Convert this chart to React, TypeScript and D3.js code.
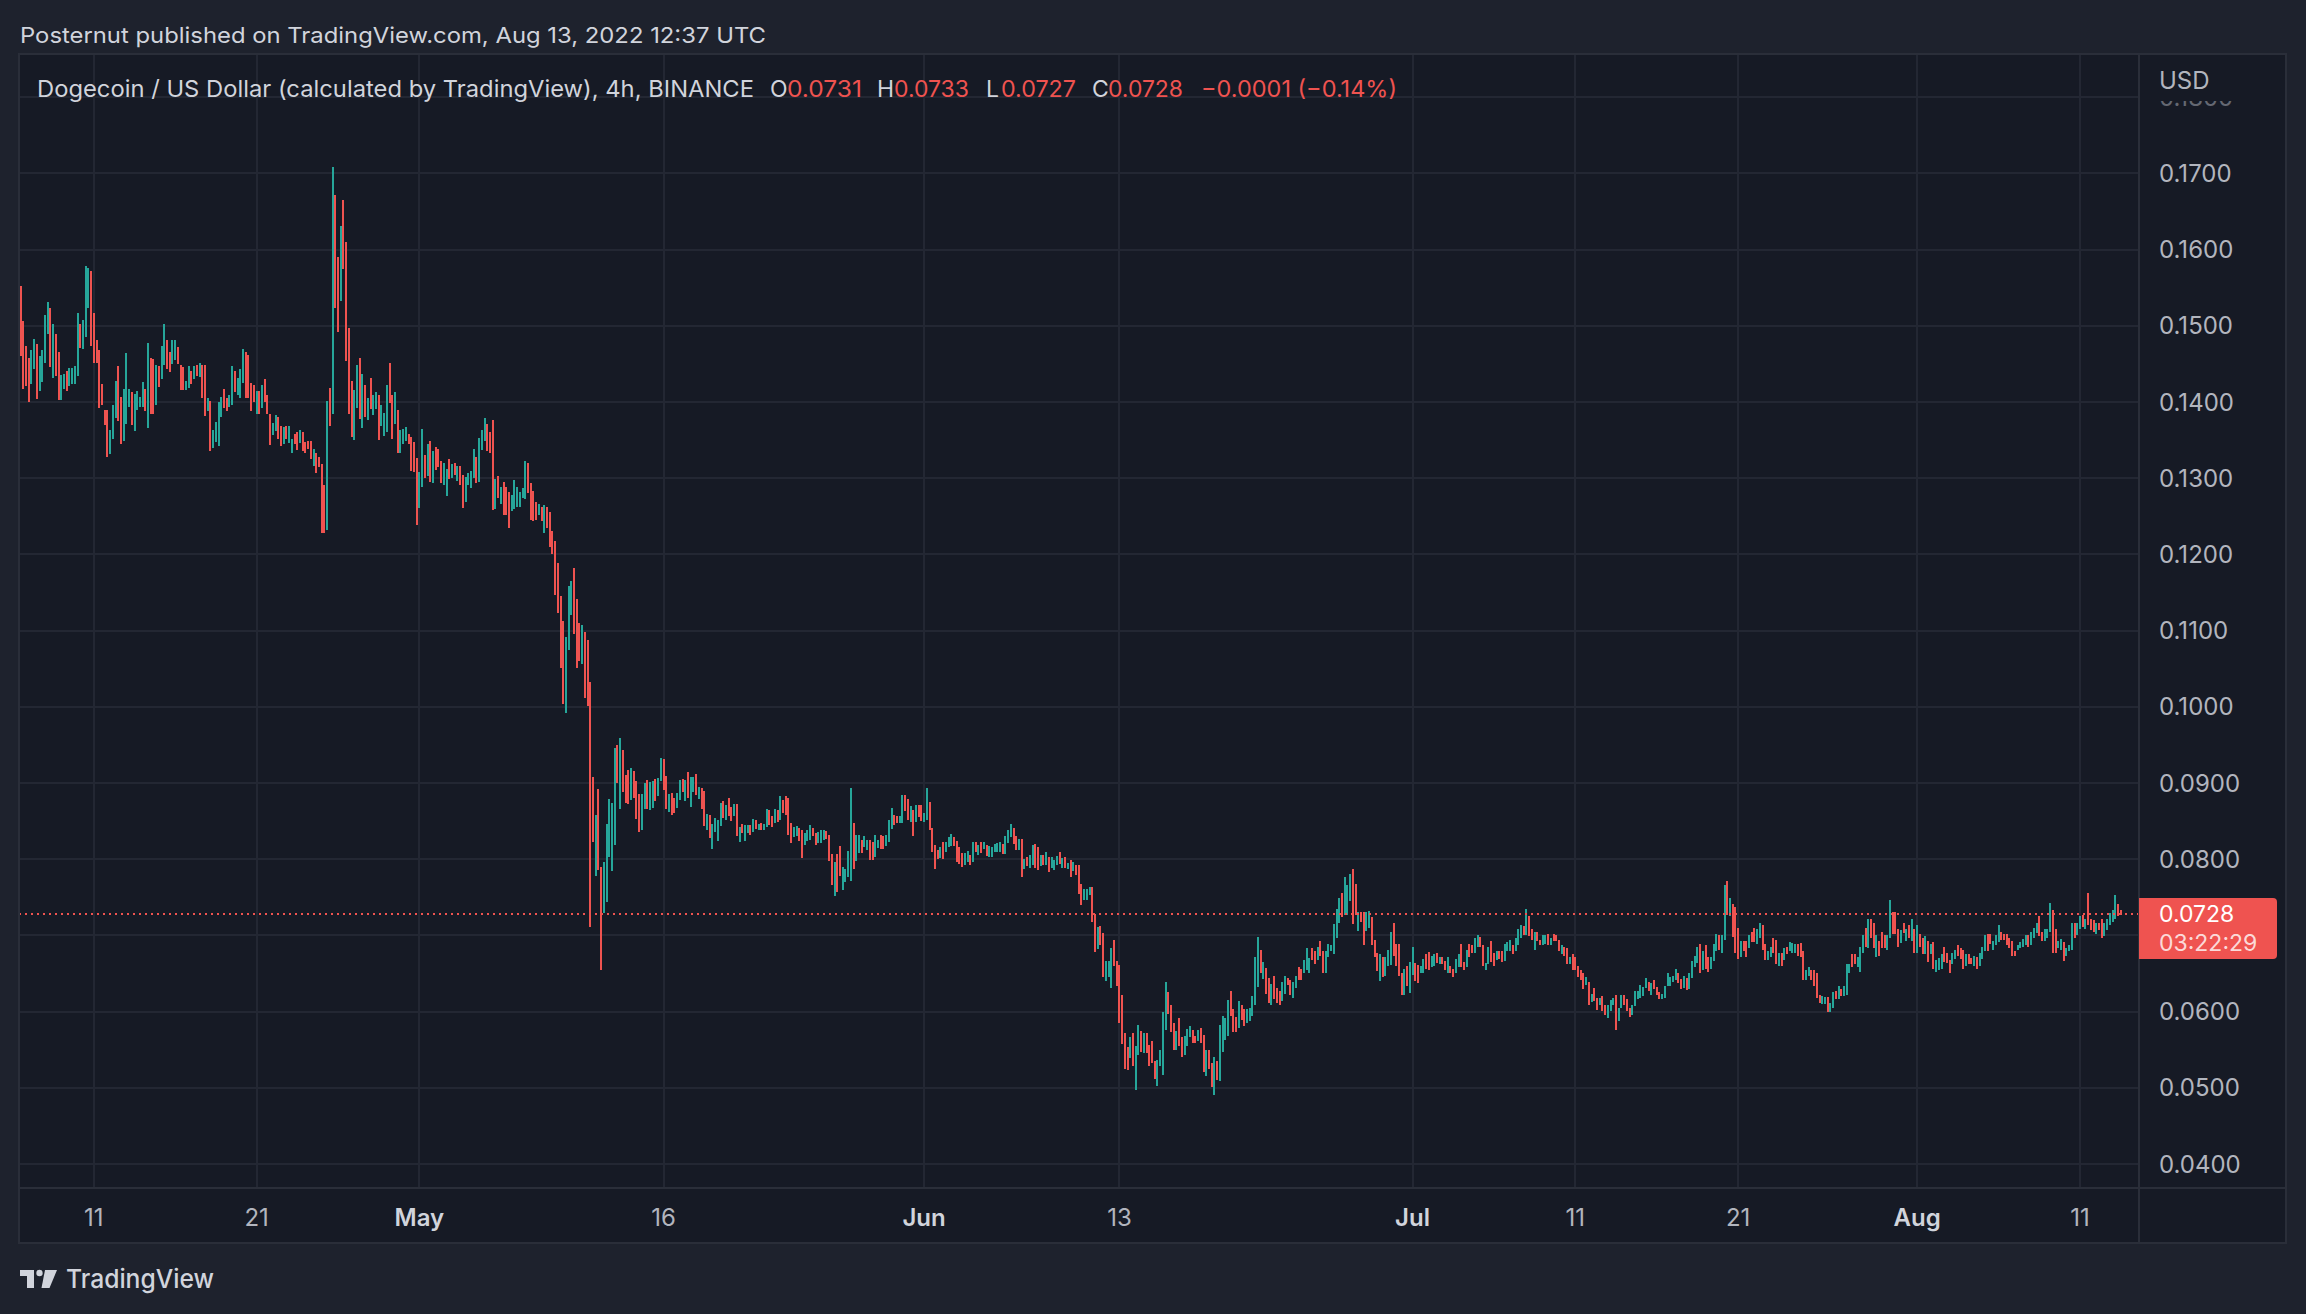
import * as d3 from 'd3';

// DOGE/USD 4h candles, values in 0.0001 USD: [high, low, up]  (up = 1 -> closed above open)
// Apr 6 12:00 UTC -> Apr 30 20:00 UTC
const aprilBars = [
  [1552, 1460, 0], [1506, 1417, 0], [1474, 1421, 0], [1458, 1400, 0], [1468, 1424, 1], [1483, 1443, 1], [1476, 1404, 0], [1460, 1414, 1], [1468, 1426, 1], [1514, 1451, 1],
  [1531, 1489, 1], [1523, 1446, 0], [1502, 1431, 1], [1489, 1434, 0], [1465, 1403, 0], [1435, 1403, 1], [1436, 1417, 1], [1440, 1414, 0], [1445, 1421, 1], [1445, 1424, 1],
  [1447, 1424, 1], [1517, 1434, 1], [1502, 1471, 0], [1508, 1469, 1], [1579, 1485, 1], [1576, 1523, 1], [1572, 1473, 0],
  [1517, 1451, 0], [1481, 1451, 0], [1468, 1392, 0], [1423, 1396, 0], [1389, 1370, 0], [1389, 1328, 0], [1363, 1332, 1], [1396, 1352, 1], [1428, 1379, 1], [1447, 1375, 0],
  [1407, 1345, 0], [1417, 1349, 1], [1464, 1371, 1], [1417, 1393, 1], [1413, 1370, 0], [1410, 1362, 1], [1414, 1390, 1], [1407, 1393, 1], [1426, 1393, 1], [1417, 1388, 0],
  [1477, 1366, 1], [1457, 1384, 0], [1456, 1384, 0], [1449, 1396, 1], [1447, 1420, 0], [1474, 1430, 1], [1502, 1448, 1], [1481, 1443, 0], [1465, 1439, 0], [1481, 1450, 1],
  [1481, 1455, 1], [1472, 1450, 0], [1449, 1416, 0], [1446, 1416, 0], [1428, 1416, 1], [1447, 1418, 1], [1441, 1424, 0], [1447, 1430, 1], [1448, 1434, 0], [1451, 1433, 1],
  [1448, 1405, 0], [1448, 1382, 0], [1405, 1388, 1], [1401, 1335, 0], [1363, 1340, 1], [1374, 1348, 1], [1400, 1342, 1], [1407, 1380, 1], [1417, 1392, 0], [1405, 1388, 0],
  [1409, 1393, 1], [1447, 1396, 1], [1441, 1413, 0], [1431, 1409, 1], [1443, 1405, 1], [1469, 1425, 1], [1466, 1405, 0], [1462, 1405, 0], [1425, 1388, 0], [1422, 1400, 0],
  [1414, 1384, 1], [1414, 1384, 0], [1422, 1392, 1], [1430, 1400, 0], [1409, 1384, 0], [1384, 1344, 0], [1372, 1356, 1], [1383, 1362, 1], [1380, 1352, 0], [1369, 1342, 0],
  [1367, 1345, 1], [1369, 1352, 0], [1369, 1346, 1], [1352, 1333, 1], [1358, 1345, 0], [1361, 1337, 0], [1363, 1346, 1], [1361, 1335, 0], [1348, 1333, 0], [1349, 1338, 0],
  [1349, 1325, 0], [1338, 1316, 1], [1333, 1307, 0], [1328, 1314, 0], [1318, 1228, 0], [1291, 1228, 0], [1401, 1232, 1], [1418, 1369, 0], [1708, 1384, 1], [1671, 1523, 0],
  [1590, 1492, 0], [1631, 1532, 1], [1665, 1574, 0], [1610, 1454, 0], [1497, 1384, 0], [1427, 1354, 0], [1415, 1350, 1], [1449, 1392, 1], [1457, 1378, 0], [1436, 1366, 1],
  [1422, 1380, 0], [1405, 1376, 1], [1431, 1391, 0], [1409, 1383, 1], [1413, 1391, 1], [1409, 1350, 0], [1396, 1369, 1], [1386, 1355, 1], [1422, 1361, 1], [1451, 1399, 0],
  [1409, 1352, 0], [1413, 1371, 1], [1389, 1333, 0], [1363, 1333, 1], [1365, 1345, 1], [1367, 1349, 1], [1358, 1345, 0], [1354, 1310, 0], [1348, 1308, 0], [1326, 1239, 0],
];

const mayBars = [
  [1308, 1261, 1], [1365, 1289, 1], [1331, 1300, 0], [1345, 1303, 1], [1349, 1295, 0], [1336, 1294, 1], [1341, 1311, 0], [1338, 1315, 0], [1323, 1294, 0], [1320, 1291, 1],
  [1312, 1276, 1], [1325, 1299, 0], [1318, 1300, 1], [1320, 1304, 0], [1316, 1296, 1], [1316, 1291, 0], [1304, 1261, 0], [1302, 1269, 1], [1307, 1291, 1], [1310, 1287, 1],
  [1338, 1300, 1], [1328, 1294, 0], [1353, 1295, 1], [1363, 1337, 1], [1379, 1349, 1], [1371, 1336, 0], [1361, 1333, 0], [1376, 1258, 0], [1299, 1260, 1], [1303, 1274, 0],
  [1289, 1266, 1], [1295, 1252, 0], [1289, 1251, 0], [1282, 1235, 0], [1278, 1257, 1], [1298, 1260, 1], [1289, 1262, 1], [1282, 1262, 1], [1287, 1274, 1], [1323, 1273, 1],
  [1320, 1281, 0], [1293, 1245, 0], [1283, 1244, 0], [1269, 1245, 0], [1266, 1252, 1], [1262, 1244, 0], [1265, 1228, 1], [1262, 1235, 0], [1255, 1209, 0], [1231, 1201, 0],
  [1217, 1147, 0], [1189, 1123, 0], [1145, 1051, 0], [1113, 1004, 0], [1092, 992, 1], [1159, 1074, 1], [1165, 1120, 1], [1182, 1095, 0], [1142, 1051, 0], [1110, 1060, 0],
  [1107, 1056, 1], [1098, 1011, 0], [1088, 1001, 0], [1033, 711, 0], [908, 822, 0], [858, 778, 1], [892, 786, 0], [790, 654, 0], [796, 730, 1], [846, 744, 1],
  [879, 803, 1], [874, 784, 1], [946, 818, 1], [950, 900, 0], [959, 866, 1], [943, 888, 0], [911, 874, 0], [917, 872, 0], [919, 878, 1], [916, 880, 0],
  [902, 853, 0], [886, 836, 0], [885, 838, 1], [900, 866, 1], [904, 866, 0], [901, 864, 1], [902, 867, 1], [905, 876, 0], [906, 883, 1], [933, 902, 1],
  [931, 891, 0], [909, 866, 0], [885, 862, 1], [887, 858, 0], [880, 861, 0], [887, 867, 1], [904, 877, 1], [905, 888, 0], [904, 876, 1], [915, 880, 0],
  [908, 869, 1], [908, 888, 1], [912, 884, 0], [895, 879, 1], [893, 866, 0], [890, 843, 0], [859, 838, 1], [858, 828, 0], [846, 814, 1], [854, 836, 1],
  [851, 824, 1], [874, 843, 1], [876, 854, 0], [871, 851, 1], [880, 857, 0], [869, 850, 0], [873, 857, 1], [872, 831, 0], [842, 823, 1], [846, 834, 0],
  [845, 824, 1], [845, 834, 1], [845, 832, 0], [853, 835, 1], [851, 840, 0], [846, 838, 1], [848, 838, 0], [846, 838, 1], [866, 842, 1], [864, 845, 0],
  [857, 842, 0], [866, 848, 1], [864, 849, 0], [883, 851, 1], [878, 861, 0], [883, 858, 0], [880, 832, 0], [848, 821, 0], [842, 829, 1], [843, 831, 1],
  [841, 824, 0], [838, 801, 0], [834, 819, 1], [838, 824, 1], [845, 825, 1], [841, 831, 0], [834, 818, 0], [836, 821, 1], [838, 821, 1], [838, 825, 1],
  [837, 826, 0], [832, 798, 0], [807, 766, 0], [796, 752, 1], [807, 757, 0], [817, 778, 0], [790, 760, 1], [787, 770, 1], [811, 777, 1], [893, 771, 1],
  [847, 787, 0], [832, 798, 1], [832, 808, 1], [825, 808, 0], [831, 816, 1], [825, 812, 1], [825, 799, 0], [822, 799, 0], [832, 803, 1], [825, 815, 1],
  [832, 813, 0], [831, 813, 0], [832, 817, 1], [851, 822, 1], [867, 839, 1], [858, 845, 0], [857, 848, 0], [856, 848, 1], [884, 848, 1], [884, 863, 0],
  [879, 851, 0], [870, 849, 1], [865, 831, 0], [871, 849, 1], [871, 855, 0], [871, 850, 0],
];

const juneBars = [
  [861, 849, 1], [893, 851, 1], [875, 838, 0], [841, 810, 0], [819, 787, 0], [812, 800, 0], [816, 801, 1], [823, 800, 0], [823, 809, 1], [829, 816, 1],
  [833, 817, 1], [829, 817, 0], [824, 796, 0], [816, 794, 0], [808, 790, 0], [808, 793, 1], [811, 796, 1], [806, 793, 0], [823, 796, 1], [823, 809, 0],
  [819, 805, 1], [822, 808, 0], [823, 813, 1], [819, 804, 0], [817, 803, 1], [816, 803, 1], [820, 810, 1], [821, 810, 1], [823, 810, 1], [820, 807, 0],
  [831, 807, 1], [838, 821, 1], [846, 829, 1], [841, 820, 0], [831, 812, 0], [827, 812, 1], [826, 777, 0], [800, 787, 1], [803, 791, 0], [806, 789, 1],
  [818, 793, 1], [820, 789, 0], [816, 786, 0], [805, 791, 1], [805, 793, 0], [809, 792, 1], [803, 783, 0], [803, 788, 1], [799, 786, 1], [804, 793, 1],
  [810, 794, 0], [801, 789, 1], [803, 788, 0], [795, 787, 1], [799, 776, 0], [796, 785, 1], [793, 779, 0], [792, 754, 0], [767, 740, 0], [761, 747, 1],
  [761, 747, 1], [764, 753, 1], [763, 717, 0], [728, 678, 0], [711, 682, 1], [712, 688, 0], [703, 645, 0], [667, 640, 1], [667, 646, 1], [684, 631, 1],
  [694, 660, 0], [667, 633, 0], [661, 585, 0], [622, 557, 0], [572, 525, 0], [554, 524, 0], [567, 539, 1], [572, 528, 0], [555, 497, 1], [582, 543, 1],
  [574, 547, 0], [572, 545, 1], [572, 546, 0], [556, 529, 0], [562, 533, 0], [535, 512, 0], [537, 503, 1], [549, 529, 1], [599, 517, 1], [639, 576, 1],
  [626, 597, 0], [608, 573, 0], [585, 550, 0], [574, 550, 1], [591, 555, 0], [566, 541, 0], [568, 543, 1], [577, 555, 1], [581, 566, 1], [576, 559, 0],
  [568, 559, 0], [576, 561, 1], [578, 559, 0], [569, 521, 0], [549, 516, 1], [549, 525, 0], [533, 501, 0], [540, 491, 1], [535, 510, 0], [583, 509, 1],
  [594, 547, 1], [591, 563, 1], [615, 568, 1], [627, 594, 0], [604, 573, 0], [593, 573, 0], [614, 579, 1], [609, 589, 0], [603, 581, 0], [603, 585, 1],
  [605, 588, 1], [620, 594, 1], [671, 608, 1], [698, 632, 1], [681, 650, 0], [665, 643, 1], [657, 623, 0], [644, 611, 0], [636, 609, 1], [647, 616, 0],
  [631, 611, 0], [627, 609, 0], [639, 614, 1], [647, 623, 1], [644, 635, 0], [642, 622, 0], [639, 618, 1], [647, 631, 1], [658, 642, 0], [656, 642, 0],
  [668, 650, 1], [684, 655, 1], [670, 651, 1], [683, 668, 0], [680, 662, 0], [685, 668, 1], [693, 673, 0], [679, 651, 0], [679, 650, 1], [689, 672, 1],
  [687, 679, 1], [715, 676, 1], [734, 697, 1], [749, 716, 1], [756, 724, 0], [776, 727, 1], [766, 727, 1], [780, 745, 1], [787, 715, 0], [767, 727, 0],
  [731, 706, 1], [731, 718, 0], [731, 687, 0], [731, 706, 1], [732, 710, 1], [724, 687, 0], [694, 672, 0], [677, 653, 0], [676, 640, 1], [671, 646, 0],
  [671, 647, 1], [681, 660, 1], [705, 661, 1], [716, 673, 0], [689, 660, 0], [689, 647, 0], [651, 622, 0], [656, 622, 1], [660, 634, 0], [665, 625, 1],
];

const julyBars = [
  [685, 648, 1], [664, 640, 0], [661, 637, 0], [660, 650, 1], [669, 650, 1], [676, 656, 0], [678, 654, 0], [673, 658, 1], [675, 660, 1], [677, 664, 0],
  [672, 663, 1], [672, 662, 0], [667, 654, 0], [671, 651, 1], [660, 651, 0], [656, 646, 0], [669, 651, 1], [675, 658, 1], [689, 658, 0], [665, 655, 0],
  [681, 658, 1], [689, 672, 0], [688, 677, 0], [696, 677, 1], [700, 685, 1], [698, 685, 0], [688, 660, 0], [664, 655, 1], [685, 662, 1], [692, 665, 0],
  [677, 660, 0], [680, 668, 1], [679, 669, 0], [679, 665, 0], [689, 667, 1], [691, 680, 1], [694, 679, 1], [688, 675, 0], [697, 680, 1], [708, 687, 1],
  [713, 697, 1], [712, 700, 0], [735, 700, 1], [726, 699, 0], [709, 694, 0], [704, 681, 1], [704, 693, 0], [694, 688, 0], [700, 688, 1], [700, 689, 1],
  [702, 688, 0], [697, 687, 1], [702, 692, 0], [700, 692, 0], [694, 679, 0], [688, 676, 1], [685, 673, 0], [683, 663, 0], [672, 662, 1], [676, 655, 0],
  [671, 655, 0], [660, 646, 0], [654, 642, 0], [651, 630, 0], [646, 635, 1], [639, 609, 0], [623, 612, 1], [631, 614, 0], [618, 602, 0], [618, 609, 1],
  [621, 601, 0], [609, 596, 0], [609, 591, 1], [615, 601, 1], [618, 609, 1], [622, 576, 0], [605, 588, 1], [622, 605, 1], [622, 609, 0], [617, 601, 0],
  [605, 593, 0], [609, 596, 1], [627, 607, 1], [627, 616, 1], [635, 618, 1], [632, 620, 1], [644, 631, 1], [639, 627, 0], [638, 622, 1], [642, 629, 0],
  [632, 622, 0], [626, 616, 0], [623, 617, 1], [634, 618, 1], [650, 634, 1], [645, 634, 1], [647, 639, 1], [656, 642, 1], [650, 637, 0], [643, 630, 0],
  [647, 631, 1], [644, 628, 0], [650, 629, 1], [667, 644, 1], [673, 658, 1], [685, 664, 1], [689, 651, 0], [679, 654, 1], [688, 656, 0], [672, 652, 0],
  [672, 656, 1], [689, 667, 1], [702, 680, 1], [700, 681, 0], [700, 677, 1], [766, 694, 1], [771, 727, 0], [749, 725, 1], [741, 698, 0], [737, 677, 0],
  [710, 669, 0], [693, 672, 1], [693, 679, 0], [693, 672, 0], [701, 683, 1], [704, 691, 0], [710, 691, 0], [708, 689, 1], [716, 696, 1], [713, 681, 0],
  [689, 668, 0], [680, 668, 1], [685, 671, 1], [696, 677, 0], [694, 662, 0], [677, 660, 1], [677, 660, 0], [684, 668, 1], [685, 676, 0], [691, 679, 1],
  [690, 677, 1], [689, 677, 1], [689, 673, 0], [690, 672, 0], [680, 641, 0], [655, 642, 1], [658, 647, 1], [654, 642, 0], [654, 633, 0], [650, 618, 0],
  [622, 611, 0], [621, 610, 1], [619, 610, 1], [619, 600, 0], [611, 600, 1], [626, 605, 1], [627, 617, 0], [633, 616, 1], [630, 620, 0], [634, 621, 1],
  [662, 622, 1], [662, 651, 1], [676, 658, 0], [675, 662, 0], [672, 658, 1], [685, 652, 1], [701, 677, 1], [710, 685, 0], [722, 683, 1], [722, 696, 0],
  [716, 683, 0], [701, 671, 1], [693, 673, 0], [705, 684, 0], [700, 683, 0], [700, 681, 1], [746, 697, 1], [731, 702, 0], [731, 702, 0], [709, 685, 0],
  [707, 690, 1], [716, 703, 0], [709, 692, 1], [713, 697, 0], [722, 692, 1], [709, 677, 0],
];

const augustBars = [
  [713, 677, 1], [702, 685, 0], [696, 676, 0], [699, 675, 1], [693, 665, 0], [689, 675, 1], [691, 656, 0], [668, 652, 1], [670, 655, 1], [676, 656, 1],
  [685, 665, 0], [677, 664, 0], [668, 651, 0], [677, 662, 1], [681, 669, 1], [687, 673, 0], [683, 669, 0], [681, 656, 0], [675, 660, 1], [676, 662, 0],
  [670, 662, 0], [673, 660, 1], [672, 656, 0], [677, 660, 1], [685, 669, 1], [700, 679, 1], [702, 680, 0], [702, 689, 0], [693, 681, 1], [701, 688, 1],
  [714, 691, 1], [704, 694, 0], [702, 694, 0], [702, 688, 0], [696, 684, 0], [692, 673, 0], [680, 673, 0], [688, 681, 1], [691, 684, 1], [695, 685, 1],
  [700, 688, 1], [701, 685, 0], [704, 688, 1], [710, 696, 1], [716, 703, 1], [725, 699, 0], [705, 693, 0], [709, 692, 1], [708, 696, 1], [743, 705, 1],
  [733, 677, 0], [708, 677, 0], [693, 683, 1], [695, 681, 1], [691, 667, 0], [684, 673, 1], [688, 679, 1], [716, 681, 1], [716, 697, 0], [716, 700, 1],
  [725, 709, 1], [727, 711, 0], [722, 709, 1], [755, 713, 0], [722, 707, 0], [720, 704, 0], [716, 702, 1], [716, 707, 0], [722, 696, 0], [716, 699, 1],
  [721, 707, 1], [729, 714, 1], [733, 718, 1], [753, 722, 1], [741, 725, 0], [733, 727, 0],
];

const monthStarts = ['2022-04-06T12:00:00Z', '2022-05-01T00:00:00Z', '2022-06-01T00:00:00Z', '2022-07-01T00:00:00Z', '2022-08-01T00:00:00Z'];

const priceTicks = [0.04, 0.05, 0.06, 0.07, 0.08, 0.09, 0.1, 0.11, 0.12, 0.13, 0.14, 0.15, 0.16, 0.17, 0.18];
const timeTicks = ['2022-04-11', '2022-04-21', '2022-05-01', '2022-05-16', '2022-06-01', '2022-06-13', '2022-07-01', '2022-07-11', '2022-07-21', '2022-08-01', '2022-08-11'];
const timeLabels = ['11', '21', 'May', '16', 'Jun', '13', 'Jul', '11', '21', 'Aug', '11'];
const monthLabels = ['May', 'Jun', 'Jul', 'Aug'];

const ohlcKeys = ['O', 'H', 'L', 'C'];
const ohlcValues = ['0.0731', '0.0733', '0.0727', '0.0728'];
const lastPrice = 0.0728;
const countdown = '03:22:29';

const FOUR_HOURS = 4 * 3600 * 1000;
const FONT = "Inter, 'Noto Sans', 'DejaVu Sans', sans-serif";
const UP = '#26a69a';
const DOWN = '#ef5350';

export default function App() {
  const width = 2306;
  const height = 1314;
  // chart pane
  const left = 19, top = 54, right = 2139, bottom = 1188, axisRight = 2286, axisBottom = 1243;

  const x = d3.scaleUtc()
    .domain([new Date('2022-04-11T00:00:00Z'), new Date('2022-08-11T00:00:00Z')])
    .range([93.8, 2080]);
  const y = d3.scaleLinear().domain([0.04, 0.17]).range([1164, 173.3]);

  const candles = [aprilBars, mayBars, juneBars, julyBars, augustBars].flatMap((bars, m) => {
    const start = new Date(monthStarts[m]).getTime();
    return bars.map((b, k) => ({
      t: new Date(start + k * FOUR_HOURS),
      high: b[0] / 10000,
      low: b[1] / 10000,
      up: b[2] === 1,
    }));
  });

  const fmt = d3.format('.4f');
  const lastY = Math.round(y(lastPrice));

  return (
    <svg width={width} height={height} style={{ position: 'absolute', left: 0, top: 0, display: 'block' }} fontFamily={FONT}>
      <rect width={width} height={height} fill="#1e222d" />
      <rect x={left} y={top} width={axisRight - left} height={axisBottom - top} fill="#161a25" />

      <defs>
        <clipPath id="plot">
          <rect x={left + 1} y={top + 1} width={right - left - 1} height={bottom - top - 1} />
        </clipPath>
        {/* the top price label is mostly covered by the currency caption */}
        <clipPath id="topLabel">
          <rect x={right} y={101} width={axisRight - right} height={20} />
        </clipPath>
      </defs>

      {/* grid */}
      <g clipPath="url(#plot)">
        {priceTicks.map((p) => (
          <line key={'h' + p} x1={left} x2={right} y1={Math.round(y(p))} y2={Math.round(y(p))} stroke="#232733" strokeWidth={2} />
        ))}
        {timeTicks.map((d) => {
          const xx = Math.round(x(new Date(d + 'T00:00:00Z')));
          return <line key={'v' + d} x1={xx} x2={xx} y1={top} y2={bottom} stroke="#232733" strokeWidth={2} />;
        })}

        {/* candles */}
        <g shapeRendering="crispEdges">
          {candles.map((c, i) => {
            const cx = Math.round(x(c.t));
            const y1 = Math.round(y(c.high));
            const y2 = Math.round(y(c.low));
            return (
              <rect key={i} x={cx - 1} y={y1} width={2} height={Math.max(2, y2 - y1)} fill={c.up ? UP : DOWN} />
            );
          })}
        </g>

        {/* last price line */}
        <line x1={left} x2={right} y1={lastY} y2={lastY} stroke={DOWN} strokeWidth={2} strokeDasharray="2 4" />
      </g>

      {/* price axis labels */}
      {priceTicks.map((p) => {
        const covered = p > 0.175;
        return (
          <text
            key={'pl' + p}
            x={2159}
            y={y(p) + 8.6}
            fontSize={24}
            fill="#b2b5be"
            opacity={covered ? 0.5 : 1}
            clipPath={covered ? 'url(#topLabel)' : undefined}
          >
            {fmt(p)}
          </text>
        );
      })}
      <text x={2159} y={89} fontSize={24} fill="#b2b5be">USD</text>

      {/* time axis labels */}
      {timeTicks.map((d, i) => {
        const isMonth = monthLabels.includes(timeLabels[i]);
        return (
          <text
            key={'tl' + d}
            x={x(new Date(d + 'T00:00:00Z'))}
            y={1226}
            fontSize={24}
            textAnchor="middle"
            fill={isMonth ? '#d1d4dc' : '#b2b5be'}
            fontWeight={isMonth ? 600 : 400}
          >
            {timeLabels[i]}
          </text>
        );
      })}

      {/* borders */}
      <g stroke="#2a2e39" strokeWidth={2} fill="none">
        <rect x={left} y={top} width={axisRight - left} height={axisBottom - top} />
        <line x1={right} x2={right} y1={top} y2={axisBottom} />
        <line x1={left} x2={axisRight} y1={bottom} y2={bottom} />
      </g>

      {/* last price label */}
      <path
        d={`M${right},898 H2273 a4,4 0 0 1 4,4 V955 a4,4 0 0 1 -4,4 H${right} Z`}
        fill={DOWN}
      />
      <text x={2159} y={922} fontSize={23} fill="#ffffff">{fmt(lastPrice)}</text>
      <text x={2159} y={951} fontSize={23} fill="#ffffff" fillOpacity={0.8}>{countdown}</text>

      {/* header */}
      <text x={20} y={43} fontSize={22} fill="#d1d4dc" textLength={746} lengthAdjust="spacingAndGlyphs">
        Posternut published on TradingView.com, Aug 13, 2022 12:37 UTC
      </text>

      {/* legend */}
      <text x={37} y={97} fontSize={23} fill="#d1d4dc" textLength={717} lengthAdjust="spacingAndGlyphs">
        Dogecoin / US Dollar (calculated by TradingView), 4h, BINANCE
      </text>
      {ohlcKeys.map((k, i) => {
        const kx = [770, 877, 986, 1092][i];
        const vx = [787, 894, 1001, 1108][i];
        return (
          <g key={k}>
            <text x={kx} y={97} fontSize={23} fill="#d1d4dc">{k}</text>
            <text x={vx} y={97} fontSize={23} fill={DOWN} textLength={75} lengthAdjust="spacingAndGlyphs">{ohlcValues[i]}</text>
          </g>
        );
      })}
      <text x={1201} y={97} fontSize={23} fill={DOWN} textLength={196} lengthAdjust="spacingAndGlyphs">
        −0.0001 (−0.14%)
      </text>

      {/* TradingView logo */}
      <g fill="#d1d4dc">
        <path d="M20,1270 H34 V1288 H27 V1276 H20 Z" />
        <circle cx={39.5} cy={1273} r={3.2} />
        <path d="M45,1270 H57 L49.5,1288 H41.5 Z" />
        <text x={66} y={1288} fontSize={26} fontWeight={500} textLength={148} lengthAdjust="spacingAndGlyphs">TradingView</text>
      </g>
    </svg>
  );
}
